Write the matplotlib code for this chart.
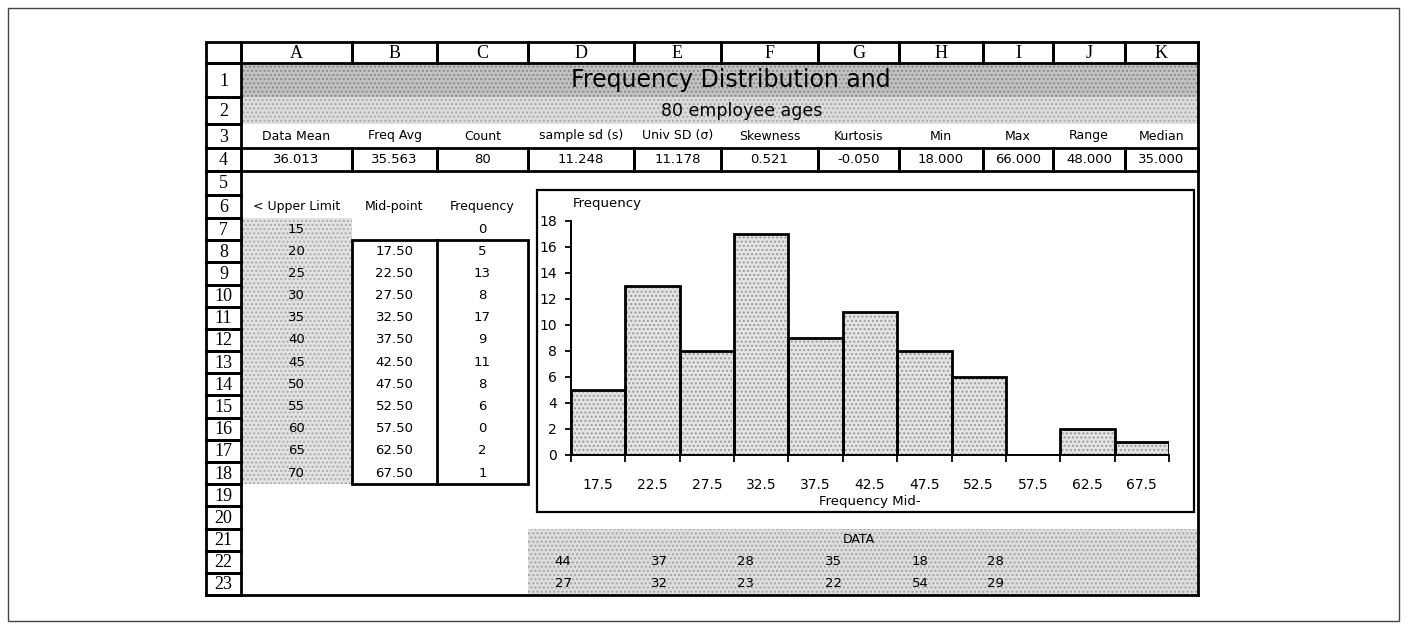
import matplotlib
matplotlib.use("Agg")
import matplotlib.pyplot as plt
from matplotlib.patches import Rectangle
import numpy as np

# ---------------- data ----------------
col_letters = ["A", "B", "C", "D", "E", "F", "G", "H", "I", "J", "K"]
stat_labels = ["Data Mean", "Freq Avg", "Count", "sample sd (s)", "Univ SD (σ)",
               "Skewness", "Kurtosis", "Min", "Max", "Range", "Median"]
stat_values = ["36.013", "35.563", "80", "11.248", "11.178", "0.521",
               "-0.050", "18.000", "66.000", "48.000", "35.000"]
upper_limits = [15, 20, 25, 30, 35, 40, 45, 50, 55, 60, 65, 70]
mid_points = [17.5, 22.5, 27.5, 32.5, 37.5, 42.5, 47.5, 52.5, 57.5, 62.5, 67.5]
frequencies = [0, 5, 13, 8, 17, 9, 11, 8, 6, 0, 2, 1]   # first value: below 15
data_row_22 = [44, 37, 28, 35, 18, 28]
data_row_23 = [27, 32, 23, 22, 54, 29]
title = "Frequency Distribution and"
subtitle = "80 employee ages"

# ---------------- layout ----------------
W, H = 1408, 629
fig = plt.figure(figsize=(W / 100, H / 100), dpi=100)
bg = fig.add_axes([0, 0, 1, 1])
bg.set_xlim(0, W)
bg.set_ylim(H, 0)
bg.axis("off")

CELL_FONT = "DejaVu Sans"
HEAD_FONT = "Liberation Serif"

xs = [206, 241, 352, 437, 528, 634, 721, 818, 899, 983, 1053, 1125, 1198]
ys = [42, 63, 97, 124, 148, 171, 195, 218] + [218 + 22.18 * k for k in range(1, 18)]

def cx(c):  # centre of data column c (0 = A)
    return (xs[c + 1] + xs[c + 2]) / 2

def cy(r):  # centre of row r (1-based)
    return (ys[r] + ys[r + 1]) / 2

def rect(x0, y0, x1, y1, lw=2, fc="none", ec="black", z=3, **kw):
    bg.add_patch(Rectangle((x0, y0), x1 - x0, y1 - y0, lw=lw, fc=fc, ec=ec,
                           zorder=z, **kw))

# outer frame of the page
rect(8, 8, 1399, 621, lw=1.0, ec="#444444", z=1)

# stippled areas
def stipple(x0, y0, x1, y1, fc, hc):
    bg.add_patch(Rectangle((x0, y0), x1 - x0, y1 - y0, fc=fc, ec=hc, lw=0,
                           hatch="....", zorder=1))

stipple(xs[1], ys[1], xs[-1], ys[2], "#c2c2c2", "#8a8a8a")
stipple(xs[1], ys[2], xs[-1], ys[3], "#dddddd", "#a8a8a8")
stipple(xs[1], ys[7], xs[2], ys[19], "#e2e2e2", "#aaaaaa")
stipple(xs[4], ys[21], xs[-1], ys[24], "#dedede", "#a5a5a5")

# column header cells
rect(xs[0], ys[0], xs[1], ys[1])
for i, letter in enumerate(col_letters):
    rect(xs[i + 1], ys[0], xs[i + 2], ys[1])
    bg.text(cx(i), (ys[0] + ys[1]) / 2 + 1, letter, ha="center", va="center",
            fontsize=13, family=HEAD_FONT, zorder=4)

# row number cells
for r in range(1, 24):
    rect(xs[0], ys[r], xs[1], ys[r + 1])
    bg.text((xs[0] + xs[1]) / 2, cy(r) + 1, str(r), ha="center", va="center",
            fontsize=13, family=HEAD_FONT, zorder=4)

# sheet border right and bottom
bg.plot([xs[-1], xs[-1]], [ys[0], ys[24]], color="black", lw=2, zorder=3)
bg.plot([xs[0], xs[-1]], [ys[24], ys[24]], color="black", lw=2, zorder=3)

# titles
bg.text(731, cy(1), title, ha="center", va="center", fontsize=17,
        family=CELL_FONT, zorder=4)
bg.text(742, cy(2), subtitle, ha="center", va="center", fontsize=12.5,
        family=CELL_FONT, zorder=4)

# statistics rows
for i, (lab, val) in enumerate(zip(stat_labels, stat_values)):
    bg.text(cx(i), cy(3), lab, ha="center", va="center", fontsize=9,
            family=CELL_FONT, zorder=4)
    rect(xs[i + 1], ys[4], xs[i + 2], ys[5])
    bg.text(cx(i), cy(4), val, ha="center", va="center", fontsize=9.5,
            family=CELL_FONT, zorder=4)

# frequency table
bg.text(cx(0), cy(6), "< Upper Limit", ha="center", va="center", fontsize=9,
        family=CELL_FONT, zorder=4)
bg.text(cx(1), cy(6), "Mid-point", ha="center", va="center", fontsize=9,
        family=CELL_FONT, zorder=4)
bg.text(cx(2), cy(6), "Frequency", ha="center", va="center", fontsize=9,
        family=CELL_FONT, zorder=4)
for k, ul in enumerate(upper_limits):
    r = 7 + k
    bg.text(cx(0), cy(r), str(ul), ha="center", va="center", fontsize=9.5,
            family=CELL_FONT, zorder=4)
    bg.text(cx(2), cy(r), str(frequencies[k]), ha="center", va="center",
            fontsize=9.5, family=CELL_FONT, zorder=4)
for k, mp in enumerate(mid_points):
    r = 8 + k
    bg.text(cx(1), cy(r), f"{mp:.2f}", ha="center", va="center", fontsize=9.5,
            family=CELL_FONT, zorder=4)
rect(xs[2], ys[8], xs[4], ys[19])
bg.plot([xs[3], xs[3]], [ys[8], ys[19]], color="black", lw=2, zorder=3)

# data block
bg.text(cx(6), cy(21), "DATA", ha="center", va="center", fontsize=9,
        family=CELL_FONT, zorder=4)
data_x = [563, 659, 745, 833, 920, 995]
for k in range(len(data_row_22)):
    bg.text(data_x[k], cy(22), str(data_row_22[k]), ha="center", va="center",
            fontsize=9.5, family=CELL_FONT, zorder=4)
    bg.text(data_x[k], cy(23), str(data_row_23[k]), ha="center", va="center",
            fontsize=9.5, family=CELL_FONT, zorder=4)

# ---------------- chart ----------------
box_l, box_t, box_r, box_b = 537, 190, 1194, 512
rect(box_l, box_t, box_r, box_b, lw=1.6, fc="white", z=2)

pl, pr, pt, pb = 571, 1169, 220.5, 454.5
ax = fig.add_axes([pl / W, 1 - pb / H, (pr - pl) / W, (pb - pt) / H])
ax.set_facecolor("none")
x = np.arange(len(mid_points))
hist_freq = frequencies[1:]
ax.bar(x, hist_freq, width=1.0, color="#e4e4e4", edgecolor="#9a9a9a",
       hatch="....", linewidth=0, zorder=1)
ax.bar(x, hist_freq, width=1.0, facecolor="none", edgecolor="black",
       linewidth=2, zorder=2)
ax.set_xlim(-0.5, len(mid_points) - 0.5)
ax.set_ylim(0, 18)
ax.set_yticks(np.arange(0, 19, 2))
ax.set_xticks(x)
ax.set_xticklabels([f"{m:.1f}" for m in mid_points])
ax.set_xticks(np.arange(-0.5, len(mid_points), 1.0), minor=True)
for s in ["top", "right"]:
    ax.spines[s].set_visible(False)
for s in ["left", "bottom"]:
    ax.spines[s].set_linewidth(1.4)
ax.tick_params(axis="y", direction="out", length=4, width=1.3, pad=6,
               labelsize=10)
ax.tick_params(axis="x", which="major", length=0, pad=17, labelsize=10)
ax.tick_params(axis="x", which="minor", direction="out", length=5, width=1.3)
for lab in ax.get_xticklabels() + ax.get_yticklabels():
    lab.set_family(CELL_FONT)

bg.text(573, 203, "Frequency", ha="left", va="center", fontsize=9.5,
        family=CELL_FONT, zorder=4)
bg.text((pl + pr) / 2, 502, "Frequency Mid-", ha="center", va="center",
        fontsize=9.5, family=CELL_FONT, zorder=4)

fig.savefig("out.png", dpi=100)
